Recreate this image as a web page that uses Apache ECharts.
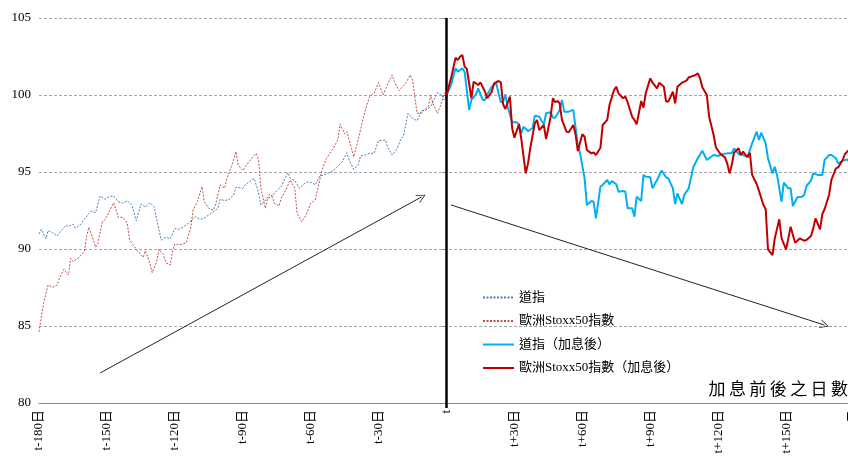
<!DOCTYPE html>
<html>
<head>
<meta charset="utf-8">
<script src="https://cdn.jsdelivr.net/npm/echarts@6/dist/echarts.min.js"></script>
<style>
html,body{margin:0;padding:0;background:#fff;}
#chart{width:848px;height:466px;}
</style>
</head>
<body>
<div id="chart"></div>
<script>
// ---- Data (day offset relative to rate hike, index level) ----
const seriesNames = ['道指', '歐洲Stoxx50指數', '道指（加息後）', '歐洲Stoxx50指數（加息後）'];
const xTitle = '加息前後之日數';
const yTicks = [80, 85, 90, 95, 100, 105];
const dayTicks = [-180, -150, -120, -90, -60, -30, 0, 30, 60, 90, 120, 150, 180];

const dowBefore = [[-180,90.97],[-179,91.28],[-177,90.67],[-176,91.19],[-174,91.06],[-172,90.84],[-170,91.23],[-168,91.54],[-167,91.45],[-165,91.62],[-164,91.36],[-162,91.54],[-160,91.93],[-157,92.47],[-155,92.36],[-153,93.44],[-151,93.23],[-149,93.40],[-147,93.44],[-145,93.07],[-143,92.97],[-141,93.14],[-139,92.84],[-137,91.84],[-135,92.92],[-133,92.71],[-131,93.01],[-129,92.71],[-128,91.88],[-126,90.58],[-124,90.76],[-122,90.67],[-120,91.32],[-118,91.28],[-114,91.67],[-111,92.10],[-109,91.93],[-107,92.0],[-104,92.32],[-101,92.64],[-100,93.23],[-98,93.14],[-96,93.23],[-94,93.51],[-93,94.01],[-90,93.94],[-89,94.16],[-87,94.37],[-85,94.59],[-83,93.66],[-82,92.86],[-80,93.18],[-78,93.57],[-77,93.44],[-75,93.79],[-73,94.05],[-72,94.37],[-70,94.96],[-69,94.59],[-67,94.44],[-65,93.94],[-63,94.22],[-61,94.37],[-59,94.27],[-58,94.16],[-56,94.74],[-53,94.87],[-50,95.09],[-48,95.39],[-46,95.67],[-44,96.25],[-43,95.78],[-41,95.18],[-39,95.45],[-38,96.04],[-36,96.10],[-34,96.21],[-32,96.21],[-30,97.03],[-27,97.08],[-26,96.60],[-24,96.10],[-22,96.47],[-20,97.19],[-19,97.34],[-17,98.81],[-15,98.49],[-13,98.33],[-11,98.98],[-9,99.03],[-7,99.24],[-5,99.85],[-4,100.15],[-2,100.0],[-1,99.68],[0,100]];

const stoxxBefore = [[-180,84.63],[-178,86.47],[-176,87.66],[-174,87.51],[-172,87.66],[-171,88.10],[-169,88.68],[-167,88.31],[-166,89.40],[-165,89.18],[-162,89.50],[-160,89.82],[-159,90.80],[-158,91.41],[-156,90.58],[-155,90.11],[-154,90.37],[-152,91.77],[-151,91.88],[-149,92.42],[-147,93.01],[-145,92.06],[-143,92.06],[-141,91.67],[-140,90.58],[-137,89.98],[-135,89.61],[-134,89.46],[-133,89.89],[-131,89.07],[-130,88.46],[-128,89.18],[-127,89.98],[-125,89.61],[-124,89.11],[-122,88.96],[-121,89.89],[-120,90.32],[-118,90.26],[-115,90.40],[-113,91.34],[-112,92.53],[-110,93.07],[-108,94.05],[-107,93.07],[-105,92.64],[-103,92.53],[-102,92.86],[-100,94.16],[-98,93.94],[-97,94.59],[-95,95.34],[-93,96.32],[-92,95.45],[-90,95.09],[-88,95.52],[-86,95.89],[-84,96.21],[-83,95.78],[-82,93.94],[-80,92.64],[-79,93.29],[-77,93.40],[-76,92.97],[-74,92.79],[-73,93.29],[-71,93.83],[-69,94.48],[-67,93.94],[-66,92.32],[-64,91.77],[-62,92.21],[-60,92.97],[-58,93.18],[-55,95.13],[-53,95.89],[-50,96.54],[-48,97.08],[-47,98.12],[-45,97.47],[-44,97.62],[-42,96.54],[-41,95.99],[-39,97.08],[-37,98.38],[-36,98.92],[-34,99.89],[-32,100.11],[-30,100.80],[-28,100.0],[-26,100.71],[-24,101.30],[-23,100.86],[-21,100.28],[-18,100.76],[-16,101.30],[-15,100.97],[-13,98.81],[-11,98.81],[-10,99.03],[-8,99.24],[-7,100.0],[-6,99.46],[-4,98.81],[-2,99.57],[-1,100.11],[0,100]];

const dowAfter = [[0,100.0],[2,100.65],[4,101.73],[5,101.51],[7,101.73],[8,101.51],[10,99.03],[11,99.68],[13,100.04],[14,100.43],[16,99.68],[17,99.68],[18,100.04],[20,100.54],[22,100.76],[23,100.11],[24,99.53],[25,99.57],[26,100.04],[27,99.24],[29,98.23],[31,98.23],[32,98.10],[33,97.51],[34,97.94],[36,97.66],[38,97.84],[39,98.66],[41,98.59],[42,98.31],[43,98.10],[44,98.81],[46,98.88],[47,98.53],[48,98.53],[50,99.03],[51,99.68],[52,98.92],[54,98.92],[56,99.03],[58,96.75],[59,96.21],[61,94.59],[62,92.86],[64,93.12],[65,93.07],[66,91.99],[68,94.05],[69,94.16],[71,94.48],[72,94.20],[73,94.42],[75,94.20],[76,93.72],[78,93.77],[79,93.72],[80,92.64],[82,92.64],[83,92.10],[84,93.40],[86,93.12],[87,94.81],[88,94.70],[90,94.66],[91,93.94],[93,94.48],[95,95.09],[97,94.66],[98,94.59],[100,93.94],[101,92.92],[102,93.61],[104,92.92],[105,93.51],[107,93.94],[109,95.31],[111,95.89],[113,96.38],[115,95.78],[116,95.89],[118,96.10],[120,96.04],[122,96.17],[124,96.21],[126,96.21],[127,96.54],[129,96.17],[131,96.10],[133,95.99],[134,96.43],[135,96.86],[137,97.62],[138,97.08],[139,97.55],[141,96.86],[142,95.89],[144,94.91],[145,95.34],[146,94.81],[148,93.07],[149,94.31],[151,93.94],[152,93.94],[153,92.79],[155,93.36],[157,93.40],[158,93.51],[159,94.09],[161,94.44],[162,94.91],[164,94.81],[166,94.81],[167,95.78],[169,96.10],[170,96.10],[172,95.89],[173,95.56],[175,95.73],[177,95.82],[179,95.45],[180,95.40]];

const stoxxAfter = [[0,100.0],[2,101.08],[4,102.42],[5,102.27],[6,102.49],[7,102.60],[8,101.84],[9,101.69],[11,99.79],[12,100.86],[14,100.65],[15,100.82],[17,100.21],[18,99.79],[20,100.21],[21,100.76],[23,100.91],[24,100.82],[25,99.40],[26,99.09],[28,99.89],[29,97.84],[30,97.23],[32,98.10],[33,97.19],[35,94.91],[36,95.56],[37,96.54],[39,98.16],[40,98.38],[41,97.73],[43,98.05],[44,97.14],[46,98.59],[47,99.79],[48,99.53],[49,99.61],[50,99.46],[51,98.38],[53,97.62],[54,97.58],[56,98.05],[57,97.45],[58,96.36],[60,97.45],[61,97.29],[62,96.43],[64,96.21],[65,96.28],[66,96.10],[68,96.58],[69,98.05],[71,98.38],[72,99.35],[74,100.32],[75,100.54],[76,100.11],[78,99.79],[79,99.89],[80,99.53],[82,98.59],[83,98.38],[84,98.10],[86,99.61],[87,99.18],[88,100.11],[90,101.08],[91,100.80],[93,100.43],[94,100.80],[96,100.54],[97,99.57],[98,99.57],[100,100.21],[101,99.46],[102,100.54],[104,100.80],[106,100.93],[107,101.15],[108,101.19],[110,101.30],[111,101.41],[112,101.08],[113,100.50],[115,100.0],[116,98.59],[118,97.40],[119,96.60],[121,96.17],[123,95.95],[124,95.56],[125,94.91],[126,95.45],[127,96.25],[129,96.54],[130,96.10],[131,96.32],[133,95.95],[134,96.25],[135,94.81],[137,94.22],[138,93.79],[140,92.86],[141,92.58],[142,89.98],[144,89.61],[145,90.69],[147,91.93],[148,90.69],[150,89.98],[151,90.69],[152,91.45],[154,90.41],[155,90.54],[156,90.69],[158,90.54],[159,90.58],[161,90.84],[162,91.34],[163,91.99],[165,91.28],[166,92.27],[167,92.58],[169,93.51],[170,94.48],[172,95.24],[173,95.30],[175,95.78],[176,96.17],[178,96.47],[179,96.20],[180,96.30]];

// annotation arrows: [start [day, level], end [day, level]]
const trendArrowUp = [[-153, 81.95], [-11, 93.38]];
const trendArrowDown = [[2, 92.86], [167, 85.06]];

// ---- Chart ----
const serifCJK = '"Liberation Serif","Noto Sans CJK TC","Noto Sans CJK SC",serif';
const chevron = 'path://M0,10 L5,0 L10,10 L9,10 L5,1.8 L1,10 Z';

function dayLabel(v) {
  if (v === 0) return 't';
  if (v < 0) return 't' + v + '日';
  return 't+' + v + '日';
}

const chart = echarts.init(document.getElementById('chart'), null, {renderer: 'canvas'});
chart.setOption({
  animation: false,
  backgroundColor: '#ffffff',
  grid: {left: 39, right: -6, top: 18, bottom: 63, containLabel: false, outerBoundsMode: 'none'},
  legend: {
    orient: 'vertical',
    left: 477,
    top: 286,
    itemWidth: 31,
    itemHeight: 12,
    itemGap: 10.5,
    itemStyle: {opacity: 0},
    textStyle: {fontFamily: serifCJK, fontSize: 13, color: '#000'},
    data: seriesNames
  },
  graphic: [{
    type: 'text',
    right: 0,
    top: 380,
    style: {
      text: '加\u2009息\u2009前\u2009後\u2009之\u2009日\u2009數',
      font: '17px "Noto Sans CJK TC"',
      fill: '#000'
    }
  }],
  xAxis: {
    type: 'value',
    min: dayTicks[0],
    max: dayTicks[dayTicks.length - 1],
    interval: 30,
    axisLine: {show: true, onZero: false, lineStyle: {color: '#868686', width: 1}},
    axisTick: {show: true, customValues: [0], length: 5, lineStyle: {color: '#000', width: 2.5}},
    splitLine: {show: false},
    axisLabel: {
      rotate: 90,
      margin: 7,
      fontFamily: serifCJK,
      fontSize: 13,
      color: '#000',
      formatter: dayLabel
    }
  },
  yAxis: {
    type: 'value',
    min: yTicks[0],
    max: yTicks[yTicks.length - 1],
    interval: 5,
    axisLine: {show: true, lineStyle: {color: '#868686', width: 1}},
    axisTick: {show: true, length: 4, lineStyle: {color: '#868686'}},
    splitLine: {show: true, lineStyle: {color: '#a6a6a6', type: [3, 2], width: 1}},
    axisLabel: {fontFamily: '"Liberation Serif",serif', fontSize: 13, color: '#000', margin: 8}
  },
  series: [
    {
      name: seriesNames[0],
      type: 'line',
      data: dowBefore,
      symbol: 'none',
      lineStyle: {color: '#4a7ebb', width: 1, type: [2, 1.5]},
      itemStyle: {color: '#4a7ebb'},
      z: 3,
      markLine: {
        silent: true,
        symbol: ['none', 'none'],
        label: {show: false},
        lineStyle: {color: '#000', width: 2.5, type: 'solid'},
        data: [{xAxis: 0}]
      }
    },
    {
      name: seriesNames[1],
      type: 'line',
      data: stoxxBefore,
      symbol: 'none',
      lineStyle: {color: '#c0504d', width: 1, type: [2, 1.5]},
      itemStyle: {color: '#c0504d'},
      z: 3,
      markLine: {
        silent: true,
        symbol: ['none', chevron],
        symbolSize: [9, 9],
        label: {show: false},
        lineStyle: {color: '#222', width: 1, type: 'solid'},
        itemStyle: {color: '#222'},
        data: [
          [{coord: trendArrowUp[0]}, {coord: trendArrowUp[1]}],
          [{coord: trendArrowDown[0]}, {coord: trendArrowDown[1]}]
        ]
      }
    },
    {
      name: seriesNames[2],
      type: 'line',
      data: dowAfter,
      symbol: 'none',
      lineStyle: {color: '#00b0f0', width: 2},
      itemStyle: {color: '#00b0f0'},
      z: 4
    },
    {
      name: seriesNames[3],
      type: 'line',
      data: stoxxAfter,
      symbol: 'none',
      lineStyle: {color: '#c00000', width: 2},
      itemStyle: {color: '#c00000'},
      z: 5
    }
  ]
});
</script>
</body>
</html>
